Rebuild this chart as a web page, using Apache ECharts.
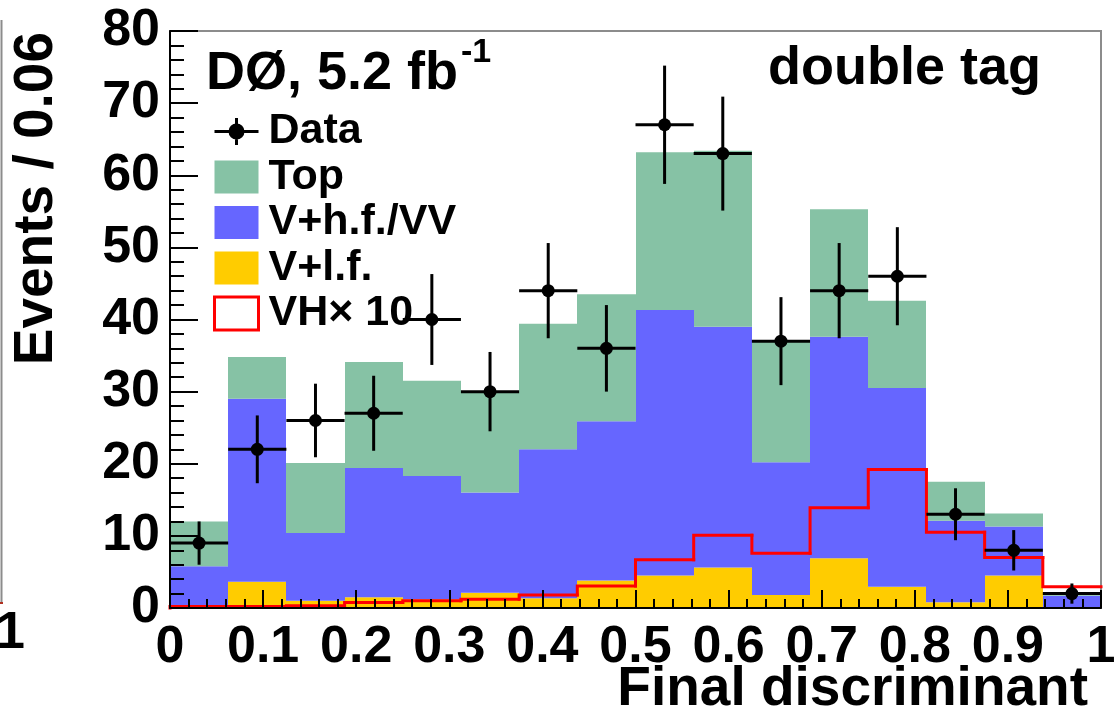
<!DOCTYPE html>
<html>
<head>
<meta charset="utf-8">
<script src="https://cdn.jsdelivr.net/npm/echarts@6/dist/echarts.min.js"></script>
<style>
html,body{margin:0;padding:0;background:#fff;}
#chart{width:1117px;height:719px;}
</style>
</head>
<body>
<div id="chart"></div>
<script>
// ---- data ----
const binLow = [0, 0.0625, 0.125, 0.1875, 0.25, 0.3125, 0.375, 0.4375, 0.5, 0.5625, 0.625, 0.6875, 0.75, 0.8125, 0.875, 0.9375];
const binWidth = 0.0625;
const vlf   = [0.3, 3.65, 1.0, 1.5, 1.2, 2.1, 1.35, 3.8, 4.5, 5.6, 1.8, 6.9, 2.95, 0.8, 4.5, 0.1];
const vhf   = [5.5, 25.35, 9.4, 17.9, 17.1, 13.9, 20.65, 22.1, 36.8, 33.4, 18.4, 30.7, 27.55, 11.3, 6.8, 1.6];
const topBg = [6.2, 5.8, 9.7, 14.7, 13.2, 14.1, 17.4, 17.6, 21.9, 24.4, 16.7, 17.7, 12.1, 5.4, 1.8, 0.15];
const vh10  = [0.2, 0.2, 0.3, 0.75, 1.0, 1.2, 1.8, 3.05, 6.7, 10.1, 7.6, 13.9, 19.2, 10.5, 7.0, 2.95];
const dataCounts = [9, 22, 26, 27, 40, 30, 44, 36, 67, 63, 37, 44, 46, 13, 8, 2];
const dataErr    = [3.0, 4.7, 5.1, 5.2, 6.3, 5.5, 6.6, 6.0, 8.2, 7.9, 6.1, 6.6, 6.8, 3.6, 2.8, 1.4];
const xTickLabels = ['0', '0.1', '0.2', '0.3', '0.4', '0.5', '0.6', '0.7', '0.8', '0.9', '1'];
const yTickLabels = ['0', '10', '20', '30', '40', '50', '60', '70', '80'];

// ---- styles ----
const FONT = '"Liberation Sans", Arial, Helvetica, sans-serif';
const C_TOP = '#86c2a5';
const C_HF = '#6666ff';
const C_LF = '#ffcc00';
const C_VH = '#ff0000';

function stackItem(baseArrays, arr, color) {
  return function (params, api) {
    const i = params.dataIndex;
    let base = 0;
    baseArrays.forEach(a => { base += a[i]; });
    const p0 = api.coord([binLow[i], base]);
    const p1 = api.coord([binLow[i] + binWidth, base + arr[i]]);
    const x0 = Math.round(p0[0]), x1 = Math.round(p1[0]);
    return {
      type: 'rect',
      shape: { x: x0, y: p1[1], width: x1 - x0, height: p0[1] - p1[1] },
      style: { fill: color }
    };
  };
}

const chart = echarts.init(document.getElementById('chart'), null, { renderer: 'canvas' });

const dataIcon = 'path://M0,16.5L44,16.5M22,3L22,30M28.5,16.5A6.5,6.5,0,1,1,15.5,16.5A6.5,6.5,0,1,1,28.5,16.5Z';

const option = {
  animation: false,
  backgroundColor: '#ffffff',
  grid: {
    left: 170, top: 31, right: 16, bottom: 111,
    show: true, borderColor: '#8c8c8c', borderWidth: 2, backgroundColor: 'rgba(0,0,0,0)',
    containLabel: false, outerBoundsMode: 'none'
  },
  legend: {
    orient: 'vertical', left: 213, top: 110, padding: 0,
    itemWidth: 44, itemHeight: 33, itemGap: 2.5,
    selectedMode: false,
    textStyle: { fontFamily: FONT, fontWeight: 'bold', fontSize: 43, color: '#000', padding: [0, 0, 0, 5] },
    data: [
      { name: 'Data', icon: dataIcon, itemStyle: { color: '#000', borderColor: '#000', borderWidth: 3 } },
      { name: 'Top', icon: 'rect', itemStyle: { color: C_TOP, borderWidth: 0 } },
      { name: 'V+h.f./VV', icon: 'rect', itemStyle: { color: C_HF, borderWidth: 0 } },
      { name: 'V+l.f.', icon: 'rect', itemStyle: { color: C_LF, borderWidth: 0 } },
      { name: 'VH\u00d7 10', icon: 'rect', itemStyle: { color: 'rgba(255,255,255,0)', borderColor: C_VH, borderWidth: 3 } }
    ]
  },
  xAxis: {
    type: 'value', min: 0, max: 1, interval: 0.1, z: 10,
    axisLine: { show: true, onZero: false, lineStyle: { color: '#000', width: 2 } },
    axisTick: { show: true, inside: true, length: 18, lineStyle: { color: '#000', width: 2 } },
    minorTick: { show: true, splitNumber: 5, length: 9, lineStyle: { color: '#000', width: 2 } },
    splitLine: { show: false },
    axisLabel: {
      margin: 14, color: '#000', fontFamily: FONT, fontWeight: 'bold', fontSize: 52,
      formatter: (v, i) => xTickLabels[i]
    },
    name: 'Final discriminant', nameLocation: 'end', nameGap: -13, nameMoveOverlap: false,
    nameTextStyle: { fontFamily: FONT, fontWeight: 'bold', fontSize: 55, color: '#000', align: 'right', verticalAlign: 'top', padding: [54, 0, 0, 0] }
  },
  yAxis: {
    type: 'value', min: 0, max: 80, interval: 10, z: 10,
    axisLine: { show: true, onZero: false, lineStyle: { color: '#000', width: 2 } },
    axisTick: { show: true, inside: true, length: 28, lineStyle: { color: '#000', width: 2 } },
    minorTick: { show: true, splitNumber: 5, length: 14, lineStyle: { color: '#000', width: 2 } },
    splitLine: { show: false },
    axisLabel: {
      margin: 10, color: '#000', fontFamily: FONT, fontWeight: 'bold', fontSize: 52,
      padding: [8, 0, 0, 0],
      formatter: (v, i) => yTickLabels[i]
    },
    name: 'Events / 0.06', nameLocation: 'end', nameGap: -1, nameRotate: 90, nameMoveOverlap: false,
    nameTextStyle: { fontFamily: FONT, fontWeight: 'bold', fontSize: 55, color: '#000', align: 'right', verticalAlign: 'bottom', padding: [0, 0, 106, 0] }
  },
  series: [
    {
      name: 'V+l.f.', type: 'custom', z: 2, itemStyle: { color: C_LF },
      data: binLow.map((x, i) => [x, vlf[i]]), encode: { x: 0, y: 1 },
      renderItem: stackItem([], vlf, C_LF)
    },
    {
      name: 'V+h.f./VV', type: 'custom', z: 2, itemStyle: { color: C_HF },
      data: binLow.map((x, i) => [x, vhf[i]]), encode: { x: 0, y: 1 },
      renderItem: stackItem([vlf], vhf, C_HF)
    },
    {
      name: 'Top', type: 'custom', z: 2, itemStyle: { color: C_TOP },
      data: binLow.map((x, i) => [x, topBg[i]]), encode: { x: 0, y: 1 },
      renderItem: stackItem([vlf, vhf], topBg, C_TOP)
    },
    {
      name: 'VH\u00d7 10', type: 'custom', z: 3, itemStyle: { color: C_VH },
      data: binLow.map((x, i) => [x, vh10[i], i > 0 ? vh10[i - 1] : 0]), encode: { x: 0, y: 1 },
      renderItem: function (params, api) {
        const x0 = api.value(0), v = api.value(1), prev = api.value(2);
        const a = api.coord([x0, prev]);
        const b = api.coord([x0, v]);
        const c = api.coord([x0 + binWidth, v]);
        return {
          type: 'polyline',
          shape: { points: [a, b, c] },
          style: { stroke: C_VH, lineWidth: 3, fill: null, lineCap: 'square', lineJoin: 'miter' }
        };
      }
    },
    {
      name: 'Data', type: 'custom', z: 4, itemStyle: { color: '#000' },
      data: binLow.map((x, i) => [x, dataCounts[i], dataErr[i]]), encode: { x: 0, y: 1 },
      renderItem: function (params, api) {
        const x0 = api.value(0), n = api.value(1), e = api.value(2);
        const xc = x0 + binWidth / 2;
        const l = api.coord([x0, n]);
        const r = api.coord([x0 + binWidth, n]);
        const up = api.coord([xc, n + e]);
        const dn = api.coord([xc, Math.max(0, n - e)]);
        const ctr = api.coord([xc, n]);
        return {
          type: 'group',
          children: [
            { type: 'line', shape: { x1: l[0], y1: l[1], x2: r[0], y2: r[1] }, style: { stroke: '#000', lineWidth: 3 } },
            { type: 'line', shape: { x1: up[0], y1: up[1], x2: dn[0], y2: dn[1] }, style: { stroke: '#000', lineWidth: 3 } },
            { type: 'circle', shape: { cx: ctr[0], cy: ctr[1], r: 6.5 }, style: { fill: '#000' } }
          ]
        };
      }
    }
  ],
  graphic: [
    { type: 'text', left: 206, top: 47, z: 20,
      style: { text: 'D\u00d8, 5.2 fb', font: 'bold 54px ' + FONT, fill: '#000' } },
    { type: 'text', left: 461, top: 36, z: 20,
      style: { text: '-1', font: 'bold 34px ' + FONT, fill: '#000' } },
    { type: 'text', right: 76, top: 42, z: 20,
      style: { text: 'double tag', font: 'bold 54px ' + FONT, fill: '#000' } },
    { type: 'line', z: 20, shape: { x1: 1.5, y1: 20, x2: 1.5, y2: 604 }, style: { stroke: '#8c8c8c', lineWidth: 2 } },
    { type: 'line', z: 20, shape: { x1: 0, y1: 603, x2: 3, y2: 603 }, style: { stroke: '#b03020', lineWidth: 2 } },
    { type: 'text', left: -4, top: 608, z: 20,
      style: { text: '1', font: 'bold 52px ' + FONT, fill: '#000' } }
  ]
};

chart.setOption(option);
</script>
</body>
</html>
